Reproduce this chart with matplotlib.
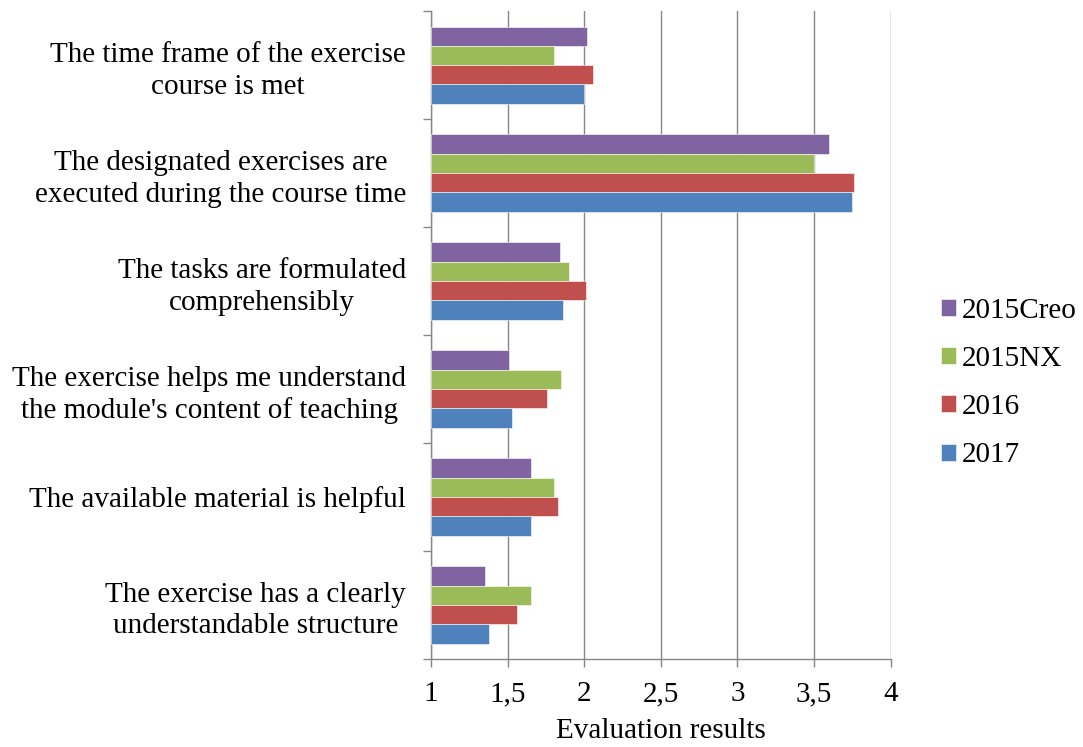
import numpy as np
import matplotlib
matplotlib.use('Agg')
import matplotlib.pyplot as plt

plt.rcParams['font.family'] = ['Liberation Serif', 'DejaVu Serif']

# categories listed top to bottom as in the chart
categories = [
    'The time frame of the exercise\ncourse is met',
    'The designated exercises are\nexecuted during the course time',
    'The tasks are formulated\ncomprehensibly',
    'The exercise helps me understand\nthe module\'s content of teaching',
    'The available material is helpful',
    'The exercise has a clearly\nunderstandable structure',
]

series_names = ['2015Creo', '2015NX', '2016', '2017']
creo_2015 = [2.02, 3.60, 1.84, 1.51, 1.65, 1.35]
nx_2015 = [1.80, 3.50, 1.90, 1.85, 1.80, 1.65]
y2016 = [2.06, 3.76, 2.01, 1.76, 1.83, 1.56]
y2017 = [2.00, 3.75, 1.86, 1.53, 1.65, 1.38]
colors = ['#8064A2', '#9BBB59', '#C0504D', '#4F81BD']

x_ticks = [1, 1.5, 2, 2.5, 3, 3.5, 4]
x_ticklabels = ['1', '1,5', '2', '2,5', '3', '3,5', '4']

fs = 21

fig = plt.figure(figsize=(10.83, 7.47), dpi=100)
ax = fig.add_axes([0.398, 0.118, 0.425, 0.867])

n = len(categories)
pos = np.arange(n)[::-1]  # top category gets the largest y
h = 0.179
offsets = [1.5 * h, 0.5 * h, -0.5 * h, -1.5 * h]
for vals, name, col, off in zip([creo_2015, nx_2015, y2016, y2017], series_names, colors, offsets):
    widths = np.array(vals) - 1
    ax.barh(pos + off, widths, height=h, left=1, color=col, label=name,
            edgecolor='white', linewidth=0.4, zorder=3)

ax.set_xlim(1, 4.004)
ax.set_ylim(-0.5, n - 0.5)
ax.set_xticks(x_ticks)
ax.set_xticklabels(x_ticklabels, fontsize=fs)
ax.set_yticks(pos)
ax.set_yticklabels(categories, fontsize=fs, linespacing=1.28)
for t in ax.get_yticklabels():
    t.set_multialignment('center')
ax.tick_params(axis='y', which='major', length=0, pad=18)
ax.set_yticks(np.arange(-0.5, n), minor=True)
ax.tick_params(axis='y', which='minor', length=6, color='#868686', width=1)
ax.tick_params(axis='x', length=6, color='#868686', width=1, pad=10)
ax.grid(axis='x', color='#868686', linewidth=1, zorder=0)

for s in ['top', 'right']:
    ax.spines[s].set_visible(False)
for s in ['left', 'bottom']:
    ax.spines[s].set_color('#868686')
    ax.spines[s].set_linewidth(1)

ax.set_xlabel('Evaluation results', fontsize=fs, labelpad=8)

ax.legend(loc='center left', bbox_to_anchor=(0.858, 0.487), bbox_transform=fig.transFigure,
          frameon=False, fontsize=fs, handlelength=0.52, handleheight=0.52,
          handletextpad=0.2, labelspacing=0.76, borderaxespad=0)

plt.savefig('out.png', dpi=100)
